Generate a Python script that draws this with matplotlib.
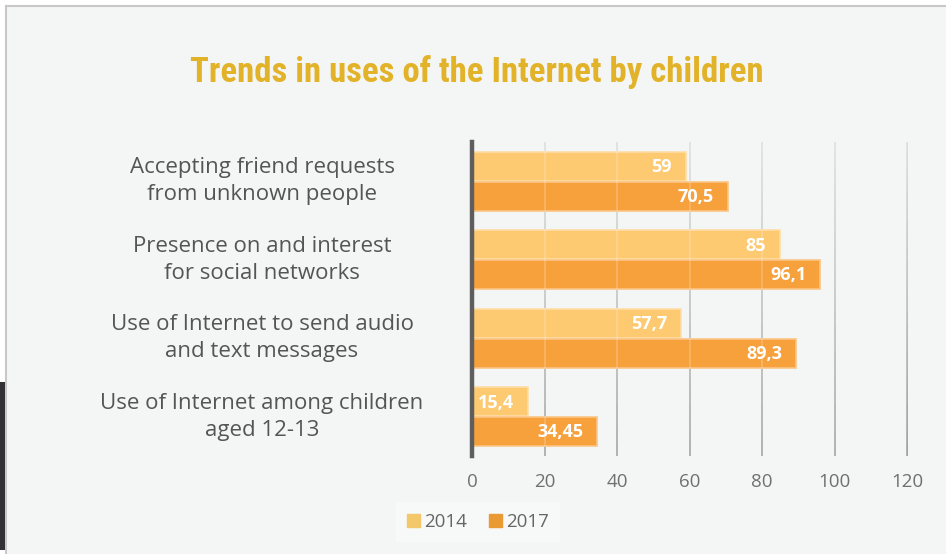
import matplotlib
matplotlib.use('Agg')
import matplotlib.pyplot as plt
import matplotlib.patches as mpatches
import numpy as np

# data
categories = [
    "Accepting friend requests\nfrom unknown people",
    "Presence on and interest\nfor social networks",
    "Use of Internet to send audio\nand text messages",
    "Use of Internet among children\naged 12-13",
]
values_2014 = [59, 85, 57.7, 15.4]
values_2017 = [70.5, 96.1, 89.3, 34.45]
labels_2014 = ["59", "85", "57,7", "15,4"]
labels_2017 = ["70,5", "96,1", "89,3", "34,45"]
series_names = ["2014", "2017"]
x_ticks = [0, 20, 40, 60, 80, 100, 120]

BG = "#F4F6F5"
C2014 = "#FDC971"
C2017 = "#F7A13D"
TITLE_COLOR = "#E2B229"
LABEL_COLOR = "#555555"
TICK_COLOR = "#707070"

W, H = 946, 554
fig = plt.figure(figsize=(W / 100, H / 100), dpi=100)
fig.patch.set_facecolor("white")

# page frame: light panel with gray top/left border, dark strip at far left
fig.patches.append(mpatches.Rectangle((5 / W, 0), 1, 1 - 5 / H, transform=fig.transFigure,
                                      facecolor=BG, edgecolor="none", zorder=-5))
fig.lines.append(plt.Line2D([5.5 / W, 1], [1 - 5.5 / H] * 2, transform=fig.transFigure,
                            color="#C8C8C8", lw=1.5, zorder=-4))
fig.lines.append(plt.Line2D([5.5 / W] * 2, [0, 1 - 5.5 / H], transform=fig.transFigure,
                            color="#C8C8C8", lw=1.5, zorder=-4))
fig.patches.append(mpatches.Rectangle((0, 1 - 550 / H), 5 / W, (550 - 382) / H,
                                      transform=fig.transFigure,
                                      facecolor="#333135", edgecolor="none", zorder=-3))

ax = fig.add_axes([472 / W, 1 - 456 / H, (907 - 472) / W, (456 - 142) / H])
ax.set_facecolor("none")

y = np.arange(len(categories))
bh = 0.37
off = 0.19

# vertical gridlines with a soft top-to-bottom gradient
segs = np.linspace(-0.5, 3.5, 25)
for xv in x_ticks[1:]:
    for i in range(len(segs) - 1):
        t = i / (len(segs) - 2)
        a = 0.25 + 0.6 * t
        ax.plot([xv, xv], [segs[i], segs[i + 1]], color="#8A8A8A", lw=1.3,
                alpha=a, solid_capstyle="butt", zorder=1, clip_on=False)

b1 = ax.barh(y - off, values_2014, height=bh, color=C2014, edgecolor="#FFDDA6",
             linewidth=1.2, zorder=2, label=series_names[0])
b2 = ax.barh(y + off, values_2017, height=bh, color=C2017, edgecolor="#FBC585",
             linewidth=1.2, zorder=2, label=series_names[1])

# faint light lines where the grid passes through the bars
for xv in x_ticks[1:]:
    ax.axvline(xv, color="white", lw=1.2, alpha=0.22, zorder=2.5)

for bars, labs in ((b1, labels_2014), (b2, labels_2017)):
    for rect, lab in zip(bars, labs):
        ax.text(rect.get_width() - 3.8, rect.get_y() + rect.get_height() / 2 + 0.01, lab,
                ha="right", va="center", color="white", fontsize=13,
                fontweight="bold", family="Open Sans", zorder=3)

ax.set_xlim(0, 120)
ax.set_ylim(3.5, -0.5)
ax.set_xticks(x_ticks)
ax.set_xticklabels([str(v) for v in x_ticks], family="Open Sans", fontsize=13.5,
                   color=TICK_COLOR)
ax.tick_params(axis="x", length=0, pad=12)
ax.set_yticks([])
for s in ["top", "right", "bottom"]:
    ax.spines[s].set_visible(False)
ax.spines["left"].set_color("#5E5E5E")
ax.spines["left"].set_linewidth(3.2)
ax.spines["left"].set_zorder(4)

# category labels, centred in the left column
for yi, cat in zip(y, categories):
    ypix = ax.transData.transform((0, yi))[1]
    fig.text(262 / W, ypix / H, cat, ha="center", va="center", fontsize=16,
             color=LABEL_COLOR, family="Open Sans", linespacing=1.35)

fig.text(477 / W, 1 - 72 / H, "Trends in uses of the Internet by children",
         ha="center", va="center", fontsize=25, fontweight="bold",
         color=TITLE_COLOR, family=["Liberation Sans Narrow", "Roboto Condensed", "Roboto"])

leg = fig.legend(handles=[mpatches.Patch(color="#F5C76B"), mpatches.Patch(color="#E99A32")],
                 labels=series_names, loc="center", bbox_to_anchor=(478 / W, 1 - 522 / H),
                 ncol=2, frameon=True, fancybox=False, handlelength=0.7, handleheight=0.7,
                 handletextpad=0.2, columnspacing=1.2, borderpad=0.6,
                 prop={"family": "Open Sans", "size": 13.5})
leg.get_frame().set_facecolor("#F8F9FA")
leg.get_frame().set_edgecolor("none")
for t in leg.get_texts():
    t.set_color("#666666")

fig.savefig("out.png", dpi=100, facecolor=fig.get_facecolor())
